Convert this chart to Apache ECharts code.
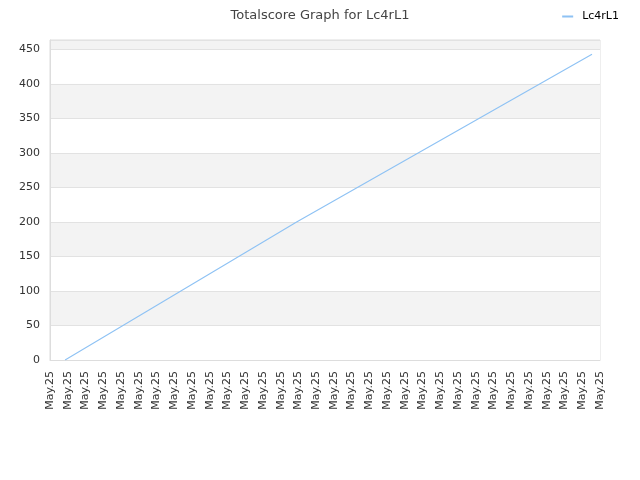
<!DOCTYPE html>
<html>
<head>
<meta charset="utf-8">
<script src="https://cdn.jsdelivr.net/npm/echarts@6/dist/echarts.min.js"></script>
<style>
html,body{margin:0;padding:0;background:#fff;}
#chart{width:640px;height:480px;}
</style>
</head>
<body>
<div id="chart"></div>
<script>
var title = 'Totalscore Graph for Lc4rL1';
var seriesName = 'Lc4rL1';
// tick labels along the bottom, one per tick
var tickLabels = [];
for (var i = 0; i < 32; i++) tickLabels.push('May.25');
// positions in tick units and scores
var pointX = [0.85, 13.9, 30.55];
var pointY = [0, 200, 443];

var yTicks = [0, 50, 100, 150, 200, 250, 300, 350, 400, 450];

var data = [];
for (var k = 0; k < pointX.length; k++) data.push([pointX[k], pointY[k]]);

var chart = echarts.init(document.getElementById('chart'));
chart.setOption({
    animation: false,
    backgroundColor: '#fff',
    title: {
        text: title,
        left: 'center',
        top: 4,
        textStyle: {fontFamily: 'DejaVu Sans', fontSize: 13, fontWeight: 'normal', color: '#444'}
    },
    legend: {
        right: 16,
        top: 6,
        // short line with empty room after it, so the text sits a bit further off
        icon: 'path://M0,0H11V2H0Z M14.95,0H15V0.02H14.95Z',
        itemWidth: 15,
        itemHeight: 2,
        data: [seriesName],
        textStyle: {fontFamily: 'DejaVu Sans', fontSize: 11, color: '#000'}
    },
    grid: {
        left: 50, right: 40, top: 40, bottom: 120,
        show: true, borderColor: '#ddd', borderWidth: 1,
        containLabel: false
    },
    xAxis: {
        type: 'value',
        min: 0,
        max: tickLabels.length - 1,
        interval: 1,
        axisLine: {show: true, lineStyle: {color: '#ddd'}},
        axisTick: {show: false},
        splitLine: {show: false},
        axisLabel: {
            rotate: 90,
            margin: 11,
            fontFamily: 'DejaVu Sans',
            fontSize: 11,
            color: '#333',
            showMinLabel: true,
            showMaxLabel: true,
            formatter: function (v) { return tickLabels[Math.round(v)]; }
        }
    },
    yAxis: {
        type: 'value',
        min: yTicks[0],
        max: 463.5,
        interval: 50,
        axisLine: {show: true, lineStyle: {color: '#ddd'}},
        axisTick: {show: false},
        splitLine: {show: true, lineStyle: {color: '#e2e2e2'}},
        splitArea: {show: true, areaStyle: {color: ['#ffffff', '#f3f3f3']}},
        axisLabel: {
            fontFamily: 'DejaVu Sans',
            fontSize: 11,
            color: '#333',
            margin: 10,
            showMaxLabel: false,
            formatter: function (v) { return yTicks.indexOf(v) >= 0 ? String(v) : ''; }
        }
    },
    series: [{
        name: seriesName,
        type: 'line',
        data: data,
        showSymbol: false,
        symbol: 'none',
        color: '#8ec2f4',
        lineStyle: {width: 1.1, color: '#8ec2f4'}
    }]
});
</script>
</body>
</html>
